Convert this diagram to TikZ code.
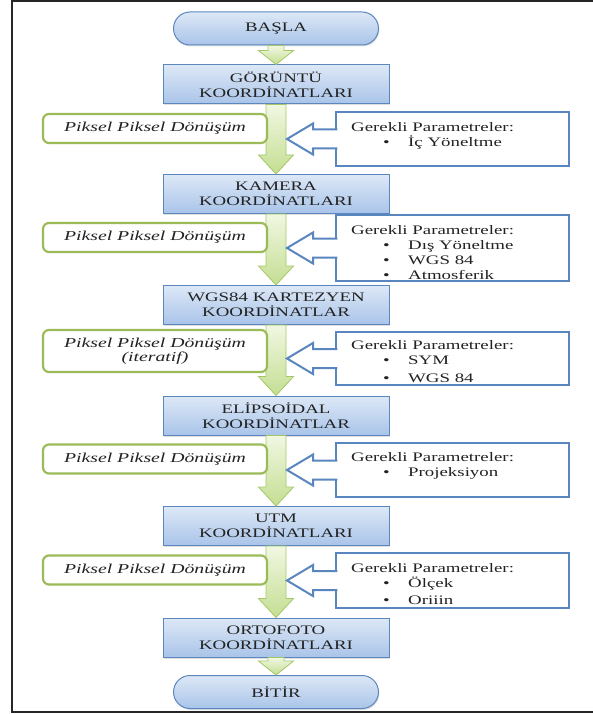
\documentclass[tikz,border=0pt]{standalone}
\usepackage{fontspec}
\setmainfont{Liberation Serif}[FakeStretch=1.45]
\usetikzlibrary{calc,shapes.misc,shadows}

\definecolor{boxblue}{HTML}{5B86BE}
\definecolor{bluetop}{HTML}{DDE8F6}
\definecolor{bluebot}{HTML}{A9C4E9}
\definecolor{parblue}{HTML}{5A86C0}
\definecolor{convgreen}{HTML}{9BBB59}
\definecolor{flowgreen}{HTML}{A4C866}
\definecolor{flowtop}{HTML}{F1F7E2}
\definecolor{flowbot}{HTML}{C4DE92}
\definecolor{inktext}{HTML}{222222}

\tikzset{
  every node/.style={text=inktext, font=\fontsize{13}{15}\selectfont},
  mainbox/.style={draw=boxblue, line width=1pt, top color=bluetop, bottom color=bluebot,
    minimum width=226pt, minimum height=39pt, inner sep=0pt, align=center,
    drop shadow={opacity=0.25, shadow xshift=0.8pt, shadow yshift=-1.5pt}},
  endbox/.style={mainbox, rounded rectangle, minimum width=205pt, minimum height=33pt},
  convbox/.style={draw=convgreen, line width=2.2pt, rounded corners=6pt, fill=white,
    minimum width=224pt, minimum height=29pt, inner sep=0pt, align=center,
    font=\fontsize{13.6}{14}\selectfont\itshape},
  parbox/.style={draw=parblue, line width=2.2pt, fill=white, outer sep=0pt,
    minimum width=233pt},
  partext/.style={anchor=north west, inner sep=0pt, align=left},
  flowarrow/.style={draw=flowgreen, line width=0.8pt, top color=flowtop, bottom color=flowbot},
  reqarrow/.style={draw=parblue, line width=2pt, fill=white, line join=miter},
}

% one bullet line in a parameter box
\newcommand{\paritem}[1]{\hspace*{32pt}\makebox[25pt][l]{\textbullet}#1}

% green block arrow between two steps: from, to, head length, shaft half width
\newcommand{\flowdown}[4]{%
  \draw[flowarrow] let \p1=(#1.south), \p2=(#2.north) in
    (\x1-#4,\y1) -- (\x1+#4,\y1) -- (\x1+#4,\y2+#3) -- (\x1+17.5pt,\y2+#3)
    -- (\x1,\y2) -- (\x1-17.5pt,\y2+#3) -- (\x1-#4,\y2+#3) -- cycle;}

% blue callout arrow on the left side of a parameter box
\newcommand{\reqcallout}[1]{%
  \draw[reqarrow] let \p1=(#1.west) in
    (\x1+1.3pt,\y1+9.5pt) -- (\x1-23pt,\y1+9.5pt) -- (\x1-23pt,\y1+15.5pt)
    -- (\x1-49pt,\y1) -- (\x1-23pt,\y1-15.5pt) -- (\x1-23pt,\y1-9.5pt)
    -- (\x1+1.3pt,\y1-9.5pt);}

\begin{document}
\begin{tikzpicture}[x=1pt, y=-1pt]
\useasboundingbox (0,0) rectangle (593,714);
\draw[line width=2pt, black!85] (600,1) -- (12,1) -- (12,712) -- (600,712);

% main steps
\node[endbox] (basla) at (276,28.5) {BAŞLA};
\node[mainbox] (goruntu) at (276,84.5) {GÖRÜNTÜ\\KOORDİNATLARI};
\node[mainbox] (kamera) at (276,194) {KAMERA\\KOORDİNATLARI};
\node[mainbox] (kartez) at (276,305) {WGS84 KARTEZYEN\\KOORDİNATLAR};
\node[mainbox] (elips) at (276,415.5) {ELİPSOİDAL\\KOORDİNATLAR};
\node[mainbox] (utm) at (276,526) {UTM\\KOORDİNATLARI};
\node[mainbox] (orto) at (276,637.5) {ORTOFOTO\\KOORDİNATLARI};
\node[endbox] (bitir) at (276,692) {BİTİR};

% flow arrows
\flowdown{basla}{goruntu}{14pt}{8pt}
\flowdown{goruntu}{kamera}{19pt}{10pt}
\flowdown{kamera}{kartez}{19pt}{10pt}
\flowdown{kartez}{elips}{19pt}{10pt}
\flowdown{elips}{utm}{19pt}{10pt}
\flowdown{utm}{orto}{19pt}{10pt}
\flowdown{orto}{bitir}{14pt}{8pt}

% conversions
\node[convbox] (conv1) at (155,128.5) {Piksel Piksel Dönüşüm};
\node[convbox] (conv2) at (155,237.5) {Piksel Piksel Dönüşüm};
\node[convbox, minimum height=42pt] (conv3) at (155,351) {Piksel Piksel Dönüşüm\\(iteratif)};
\node[convbox] (conv4) at (155,459) {Piksel Piksel Dönüşüm};
\node[convbox] (conv5) at (155,570) {Piksel Piksel Dönüşüm};

% required parameters
\node[parbox, minimum height=54pt] (par1) at (452.5,139) {};
\node[parbox, minimum height=66pt] (par2) at (452.5,248) {};
\node[parbox, minimum height=53pt] (par3) at (452.5,358.5) {};
\node[parbox, minimum height=54pt] (par4) at (452.5,470) {};
\node[parbox, minimum height=55pt] (par5) at (452.5,580.5) {};
\foreach \pb in {par1,par2,par3,par4,par5} {\reqcallout{\pb}}

\node[partext] (ptxt1) at ($(par1.north west)+(15,10)$)
  {Gerekli Parametreler:\\ \paritem{İç Yöneltme}};
\begin{scope}
  \clip ($(par2.north west)+(1.1,1.1)$) rectangle ($(par2.south east)+(-1.1,-1.1)$);
  \node[partext] (ptxt2) at ($(par2.north west)+(15,10.5)$)
    {Gerekli Parametreler:\\ \paritem{Dış Yöneltme}\\ \paritem{WGS 84}\\ \paritem{Atmosferik}};
\end{scope}
\node[partext] (ptxt3) at ($(par3.north west)+(15,8.5)$)
  {Gerekli Parametreler:\\ \paritem{SYM}\\[3pt] \paritem{WGS 84}};
\node[partext] (ptxt4) at ($(par4.north west)+(15,9)$)
  {Gerekli Parametreler:\\ \paritem{Projeksiyon}};
\node[partext] (ptxt5) at ($(par5.north west)+(15,10)$)
  {Gerekli Parametreler:\\ \paritem{Ölçek}\\[2pt] \paritem{Oriiin}};
\end{tikzpicture}
\end{document}
